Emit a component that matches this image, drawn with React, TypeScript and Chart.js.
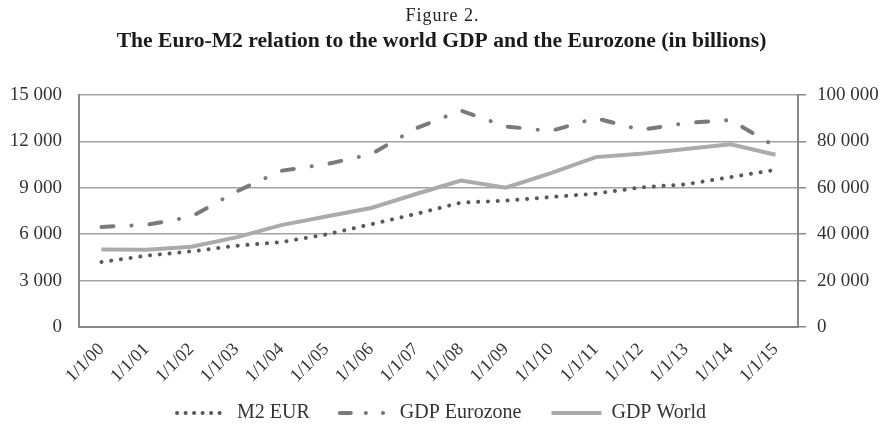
import React, { useEffect, useRef } from 'react';
import { Chart, registerables } from 'chart.js';

Chart.register(...registerables);

const categories = ['1/1/00', '1/1/01', '1/1/02', '1/1/03', '1/1/04', '1/1/05', '1/1/06', '1/1/07', '1/1/08', '1/1/09', '1/1/10', '1/1/11', '1/1/12', '1/1/13', '1/1/14', '1/1/15'];
const m2Eur = [4200, 4610, 4890, 5250, 5490, 5980, 6640, 7310, 8040, 8170, 8400, 8620, 9020, 9220, 9690, 10160];
const gdpEurozone = [6470, 6600, 7130, 8750, 10100, 10520, 11170, 12840, 13990, 12960, 12670, 13500, 12740, 13180, 13380, 11660];
const gdpWorld = [33400, 33300, 34600, 38600, 43900, 47600, 51300, 57300, 63100, 60000, 66300, 73200, 74600, 76700, 78700, 74200];

const leftMax = 15000;
const leftStep = 3000;
const rightMax = 100000;
const rightStep = 20000;

const figureText = 'Figure 2.';
const titleText = 'The Euro-M2 relation to the world GDP and the Eurozone (in billions)';

const SERIF = '"Liberation Serif", "Times New Roman", Times, serif';
const fmt = (v: number) => String(v).replace(/\B(?=(\d{3})+(?!\d))/g, ' ');

const legendDashes = [[0.1, 8.4], [11, 15, 0.1, 17, 0.1, 17], []];

const figurePlugin = {
  id: 'figureLabel',
  afterLayout(chart: any) {
    // let the rotated x labels spill below the axis box (they would be clipped otherwise)
    const xs = chart.scales.x;
    if (xs) xs._computeLabelArea = () => undefined;
  },
  afterDraw(chart: any) {
    const ctx = chart.ctx as CanvasRenderingContext2D;
    ctx.save();
    ctx.font = `18px ${SERIF}`;
    (ctx as any).letterSpacing = '1px';
    ctx.textAlign = 'center';
    ctx.textBaseline = 'middle';
    ctx.fillStyle = '#222';
    ctx.fillText(figureText, chart.width / 2 + 1, 16);
    ctx.restore();
  },
};

export default function App() {
  const ref = useRef<HTMLCanvasElement>(null);
  useEffect(() => {
    const chart = new Chart(ref.current!, {
      type: 'line',
      data: {
        labels: categories,
        datasets: [
          {
            label: 'M2 EUR',
            data: m2Eur,
            yAxisID: 'y',
            borderColor: '#595959',
            backgroundColor: '#595959',
            borderWidth: 4,
            borderDash: [0.1, 9.7],
            borderCapStyle: 'round',
            pointRadius: 0,
            tension: 0,
          },
          {
            label: 'GDP Eurozone',
            data: gdpEurozone,
            yAxisID: 'y',
            borderColor: '#7a7a7a',
            backgroundColor: '#7a7a7a',
            borderWidth: 4,
            borderDash: [12, 18, 0.1, 18],
            borderCapStyle: 'round',
            pointRadius: 0,
            tension: 0,
          },
          {
            label: 'GDP World',
            data: gdpWorld,
            yAxisID: 'y2',
            borderColor: '#ababab',
            backgroundColor: '#ababab',
            borderWidth: 4,
            pointRadius: 0,
            tension: 0,
          },
        ],
      },
      options: {
        animation: false,
        responsive: true,
        maintainAspectRatio: false,
        layout: { padding: { top: 0, left: 0, right: 0, bottom: -1 } },
        plugins: {
          title: {
            display: true,
            text: titleText,
            color: '#1a1a1a',
            font: { family: SERIF, size: 21.6, weight: 'bold' },
            padding: { top: 28, bottom: 41 },
          },
          legend: {
            position: 'bottom',
            labels: {
              usePointStyle: true,
              pointStyle: 'line',
              pointStyleWidth: 50,
              padding: 30,
              color: '#333',
              font: { family: SERIF, size: 20 },
              generateLabels: (ch: any) =>
                ch.data.datasets.map((ds: any, i: number) => ({
                  text: ds.label,
                  datasetIndex: i,
                  hidden: false,
                  fillStyle: ds.borderColor,
                  strokeStyle: ds.borderColor,
                  lineWidth: ds.borderWidth,
                  lineDash: legendDashes[i],
                  lineCap: ds.borderCapStyle || 'butt',
                  pointStyle: 'line',
                  fontColor: '#333',
                })),
            },
          },
          tooltip: { enabled: false },
        },
        scales: {
          x: {
            offset: true,
            grid: { display: false },
            border: { display: true, color: '#888', width: 2 },
            ticks: {
              color: '#333',
              font: { family: SERIF, size: 18 },
              minRotation: 45,
              maxRotation: 45,
              autoSkip: false,
              padding: 4,
            },
            afterFit: (s: any) => { s.height = 46; },
          },
          y: {
            position: 'left',
            min: 0,
            max: leftMax,
            ticks: {
              stepSize: leftStep,
              color: '#333',
              font: { family: SERIF, size: 19 },
              padding: 17,
              callback: (v: any) => fmt(Number(v)),
            },
            grid: { color: '#a3a3a3', lineWidth: 1.4, drawTicks: false },
            border: { display: true, color: '#888', width: 2 },
            afterFit: (s: any) => { s.width = 79; },
          },
          y2: {
            position: 'right',
            min: 0,
            max: rightMax,
            ticks: {
              stepSize: rightStep,
              color: '#333',
              font: { family: SERIF, size: 19 },
              padding: 11,
              callback: (v: any) => fmt(Number(v)),
            },
            grid: { drawOnChartArea: false, drawTicks: true, tickLength: 8, color: '#888', lineWidth: 1.5 },
            border: { display: true, color: '#888', width: 2 },
            afterFit: (s: any) => { s.width = 85; },
          },
        },
      },
      plugins: [figurePlugin],
    } as any);
    return () => chart.destroy();
  }, []);
  return (
    <div style={{ position: 'absolute', left: 0, top: 0, width: 883, height: 432, background: '#fff' }}>
      <canvas ref={ref} />
    </div>
  );
}
